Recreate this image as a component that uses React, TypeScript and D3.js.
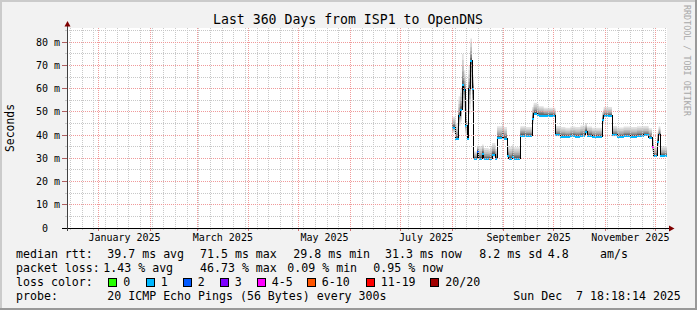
import React from "react";
import * as d3 from "d3";

// ---------- data ----------
const titleText = "Last 360 Days from ISP1 to OpenDNS";
const yAxisTitle = "Seconds";
const watermarkText = "RRDTOOL / TOBI OETIKER";

const sampleDates = [
  "2025-08-01", "2025-08-03", "2025-08-05", "2025-08-06", "2025-08-07", "2025-08-08",
  "2025-08-09", "2025-08-10", "2025-08-11", "2025-08-12", "2025-08-13", "2025-08-14",
  "2025-08-16", "2025-08-17", "2025-08-19", "2025-08-20", "2025-08-23", "2025-08-24",
  "2025-08-25", "2025-08-27", "2025-08-28", "2025-08-31", "2025-09-01", "2025-09-03",
  "2025-09-04", "2025-09-06", "2025-09-07", "2025-09-11", "2025-09-14", "2025-09-18",
  "2025-09-19", "2025-09-21", "2025-09-22", "2025-09-25", "2025-10-02", "2025-10-05",
  "2025-10-08", "2025-10-11", "2025-10-14", "2025-10-17", "2025-10-20", "2025-10-21",
  "2025-10-24", "2025-10-30", "2025-10-31", "2025-11-05", "2025-11-08", "2025-11-12",
  "2025-11-16", "2025-11-20", "2025-11-24", "2025-11-27", "2025-11-29", "2025-11-30",
  "2025-12-02", "2025-12-03", "2025-12-04",
];
const medianMs = [
  43.7, 38.8, 48.5, 51.5, 62.0, 60.0,
  44.6, 38.8, 60.4, 72.2, 60.4, 30.2,
  33.4, 30.2, 32.5, 30.0, 30.1, 30.3,
  32.0, 30.2, 39.1, 40.5, 39.0, 31.6,
  30.2, 31.0, 30.3, 40.2, 40.0, 47.5,
  49.7, 49.2, 48.9, 48.6, 40.3, 39.7,
  39.5, 40.0, 39.7, 40.1, 42.0, 40.2,
  39.6, 46.8, 48.6, 40.3, 39.6, 39.9,
  39.7, 40.1, 40.3, 39.4, 35.2, 31.3,
  37.4, 40.6, 31.3,
];
const smokeLowMs = [
  41.0, 38.0, 44.0, 46.0, 52.0, 50.0,
  40.0, 38.0, 49.0, 60.0, 50.0, 29.6,
  30.0, 29.6, 30.0, 29.5, 29.5, 29.6,
  30.5, 29.6, 38.3, 39.0, 38.3, 30.5,
  29.6, 30.0, 29.6, 39.5, 39.4, 45.0,
  48.8, 48.4, 48.2, 48.0, 39.5, 39.0,
  38.9, 39.3, 39.0, 39.4, 40.5, 39.4,
  39.0, 45.0, 47.9, 39.5, 39.0, 39.2,
  39.0, 39.4, 39.6, 38.8, 33.0, 30.8,
  35.0, 39.8, 30.8,
];
const smokeHighMs = [
  48.0, 45.0, 56.8, 60.0, 75.0, 68.0,
  56.0, 46.0, 70.0, 81.7, 66.0, 33.0,
  35.5, 35.2, 36.0, 34.5, 34.0, 35.0,
  36.6, 34.0, 43.9, 44.5, 43.5, 36.0,
  35.0, 36.0, 34.8, 43.9, 43.5, 52.0,
  54.0, 53.5, 52.5, 51.8, 44.0, 43.5,
  43.2, 43.8, 43.5, 44.2, 45.3, 43.8,
  43.2, 50.0, 52.1, 44.0, 43.3, 43.8,
  43.5, 43.9, 44.0, 43.0, 39.0, 35.2,
  41.0, 43.9, 35.2,
];
const lossPings = [
  1, 1, 1, 1, 1, 1,
  1, 1, 1, 1, 1, 1,
  2, 1, 1, 1, 8, 1,
  1, 1, 1, 1, 1, 1,
  1, 1, 1, 1, 1, 1,
  1, 1, 1, 1, 1, 1,
  1, 1, 1, 1, 1, 1,
  1, 1, 1, 1, 1, 1,
  1, 1, 1, 1, 5, 1,
  1, 1, 1,
];

const yMajorTicks = [0, 10, 20, 30, 40, 50, 60, 70, 80];
const yMinorTicks = [5, 15, 25, 35, 45, 55, 65, 75, 85];

const lossLabels = ["0", "1", "2", "3", "4-5", "6-10", "11-19", "20/20"];
const lossColors = ["#26ff00", "#00b8ff", "#0059ff", "#7e00ff", "#ff00ff", "#ff5500", "#ff0000", "#a10000"];
const lossUpper = [0, 1, 2, 3, 5, 10, 19, 20];

const rttValues = ["39.7 ms avg", "71.5 ms max", "29.8 ms min", "31.3 ms now", "8.2 ms sd", "4.8", "am/s"];
const lossValues = ["1.43 % avg", "46.73 % max", "0.09 % min", "0.95 % now"];
const probeText = "20 ICMP Echo Pings (56 Bytes) every 300s";
const stampText = "Sun Dec  7 18:18:14 2025";

// ---------- layout ----------
const W = 697;
const H = 310;
const PL = 67;
const PR = 667;
const PT = 28;
const PB = 228;
const START = new Date(Date.UTC(2024, 11, 13, 0, 0, 0));
const END = new Date(Date.UTC(2025, 11, 8, 0, 0, 0));
const Y_MAX = 86.2;

const rttX = [107.3, 200, 293.3, 385, 479.3, 547.7, 600];
const lossX = [103.3, 200, 287.3, 373.3];
const legendBoxX = [108.3, 145.7, 182.7, 219.7, 256.7, 306.7, 365.7, 430.3];
const rowY = [258, 272, 286, 300];

const MONO = "'DejaVu Sans Mono', monospace";
const smokeFractions = [1, 0.8, 0.6, 0.42, 0.26, 0.12];
const smokeShades = ["#e2e2e2", "#d0d0d0", "#bcbcbc", "#a4a4a4", "#888888", "#606060"];

function lossColor(n: number) {
  for (let i = 0; i < lossUpper.length; i++) if (n <= lossUpper[i]) return lossColors[i];
  return lossColors[lossColors.length - 1];
}

export default function App() {
  const x = d3.scaleUtc().domain([START, END]).range([PL, PR]);
  const y = d3.scaleLinear().domain([0, Y_MAX]).range([PB, PT]);
  const fy = (v: number) => Math.floor(y(v)) + 0.5;
  const fx = (d: Date) => Math.floor(x(d)) + 0.5;

  const times = sampleDates.map((s) => new Date(s + "T00:00:00Z"));
  const bins = times.map((t, i) => ({
    t0: t,
    t1: i < times.length - 1 ? times[i + 1] : END,
    med: medianMs[i],
    lo: smokeLowMs[i],
    hi: smokeHighMs[i],
    loss: lossPings[i],
  }));
  const stepPts = [...bins.map((b) => ({ t: b.t0, b })), { t: END, b: bins[bins.length - 1] }];

  const smokePaths = smokeFractions.map((f) =>
    d3
      .area<{ t: Date; b: any }>()
      .x((d) => x(d.t))
      .y0((d) => y(d.b.med - (d.b.med - d.b.lo) * f))
      .y1((d) => y(d.b.med + (d.b.hi - d.b.med) * f))
      .curve(d3.curveStepAfter)(stepPts) as string
  );
  const medianPath = d3
    .line<{ t: Date; b: any }>()
    .x((d) => x(d.t))
    .y((d) => Math.round(y(d.b.med)) + 0.5)
    .curve(d3.curveStepAfter)(stepPts) as string;

  const months = d3.utcMonth.range(START, END);
  const weeks = d3.utcSunday.range(START, END);
  const labelMonths = d3.utcMonth.every(2)!.range(d3.utcMonth.floor(START), END)
    .filter((m) => {
      const mid = new Date((m.getTime() + d3.utcMonth.offset(m, 1).getTime()) / 2);
      return mid > START && mid < END;
    });
  const fmtMonth = d3.utcFormat("%B %Y");

  const gridGray = "#c8c8c8";
  const gridRed = "#f09a9a";

  return (
    <svg
      width={W}
      height={H}
      viewBox={`0 0 ${W} ${H}`}
      style={{ position: "fixed", left: 0, top: 0, display: "block" }}
      fontFamily={MONO}
    >
      {/* background + 3D frame */}
      <rect x={0} y={0} width={W} height={H} fill="#f2f2f2" />
      <rect x={0} y={0} width={W} height={2} fill="#cbcbcb" />
      <rect x={0} y={0} width={2} height={H} fill="#cbcbcb" />
      <rect x={W - 2} y={0} width={2} height={H} fill="#999999" />
      <rect x={0} y={H - 2} width={W} height={2} fill="#999999" />

      {/* canvas */}
      <rect x={PL} y={PT} width={PR - PL} height={PB - PT} fill="#ffffff" />

      {/* smoke */}
      {smokePaths.map((p, i) => (
        <path key={"s" + i} d={p} fill={smokeShades[i]} stroke="none" />
      ))}

      {/* median */}
      <path d={medianPath} fill="none" stroke="#000000" strokeWidth={1} shapeRendering="crispEdges" />
      {bins.map((b, i) => {
        const x0 = x(b.t0);
        const x1 = x(b.t1);
        const ym = Math.round(y(b.med));
        return (
          <rect
            key={"m" + i}
            x={x0}
            y={ym - 0.5}
            width={Math.max(1, x1 - x0)}
            height={2.5}
            fill={lossColor(b.loss)}
            shapeRendering="crispEdges"
          />
        );
      })}

      {/* grid (drawn over data, as rrdtool does) */}
      <g shapeRendering="crispEdges" strokeWidth={1}>
        {yMinorTicks.filter((v) => v <= Y_MAX).map((v) => (
          <g key={"yn" + v}>
            <line x1={PL} x2={PR} y1={fy(v)} y2={fy(v)} stroke={gridGray} strokeDasharray="1,1" />
            <line x1={PL - 2} x2={PL} y1={fy(v)} y2={fy(v)} stroke={gridGray} />
          </g>
        ))}
        {weeks.map((d) => (
          <g key={"wk" + d.getTime()}>
            <line x1={fx(d)} x2={fx(d)} y1={PT} y2={PB} stroke={gridGray} strokeDasharray="1,1" />
            <line x1={fx(d)} x2={fx(d)} y1={PB} y2={PB + 2} stroke={gridGray} />
          </g>
        ))}
        {yMajorTicks.filter((v) => v > 0).map((v) => (
          <g key={"yj" + v}>
            <line x1={PL} x2={PR} y1={fy(v)} y2={fy(v)} stroke={gridRed} strokeDasharray="1,1" />
            <line x1={PL - 5} x2={PL} y1={fy(v)} y2={fy(v)} stroke="#b06060" />
          </g>
        ))}
        {months.map((d) => (
          <g key={"mo" + d.getTime()}>
            <line x1={fx(d)} x2={fx(d)} y1={PT} y2={PB} stroke={gridRed} strokeDasharray="1,1" />
            <line x1={fx(d)} x2={fx(d)} y1={PB} y2={PB + 3} stroke="#d07070" />
          </g>
        ))}
      </g>

      {/* axes */}
      <g shapeRendering="crispEdges">
        <line x1={PL - 5} x2={PR + 3} y1={PB + 0.5} y2={PB + 0.5} stroke="#000000" />
        <line x1={PL + 0.5} x2={PL + 0.5} y1={PB + 3} y2={PT - 3} stroke="#404040" />
      </g>
      <path d={`M${PL + 0.5},${PT - 7} L${PL - 2.5},${PT - 1.5} L${PL + 3.5},${PT - 1.5} Z`} fill="#7f0000" />
      <path d={`M${PR + 7.5},${PB + 0.5} L${PR + 2},${PB - 2.5} L${PR + 2},${PB + 3.5} Z`} fill="#7f0000" />

      {/* y tick labels */}
      {yMajorTicks.map((v) => (
        <text
          key={"yl" + v}
          x={v === 0 ? 48 : 60}
          y={y(v) + 3.5}
          textAnchor="end"
          fontSize={10}
          fill="#000"
        >
          {v === 0 ? "0" : `${v} m`}
        </text>
      ))}

      {/* x labels */}
      {labelMonths.map((m) => {
        const mid = new Date((m.getTime() + d3.utcMonth.offset(m, 1).getTime()) / 2);
        return (
          <text key={"xl" + m.getTime()} x={x(mid)} y={241} textAnchor="middle" fontSize={10} fill="#000">
            {fmtMonth(m)}
          </text>
        );
      })}

      {/* title, axis title, watermark */}
      <text x={348} y={24} textAnchor="middle" fontSize={13.2} fill="#000">
        {titleText}
      </text>
      <text transform={`translate(14,128) rotate(-90)`} textAnchor="middle" fontSize={11.4} fill="#000">
        {yAxisTitle}
      </text>
      <text transform={`translate(684,5) rotate(90)`} fontSize={8.4} fill="#a8a8a8">
        {watermarkText}
      </text>

      {/* legend */}
      <g fontSize={11.6} fill="#000" style={{ whiteSpace: "pre" }}>
        <text x={16} y={rowY[0]}>median rtt:</text>
        {rttValues.map((t, i) => (
          <text key={"r" + i} x={rttX[i]} y={rowY[0]}>{t}</text>
        ))}
        <text x={16} y={rowY[1]}>packet loss:</text>
        {lossValues.map((t, i) => (
          <text key={"l" + i} x={lossX[i]} y={rowY[1]}>{t}</text>
        ))}
        <text x={16} y={rowY[2]}>loss color:</text>
        {lossLabels.map((t, i) => (
          <g key={"lc" + i}>
            <rect
              x={Math.round(legendBoxX[i]) + 0.5}
              y={278.5}
              width={8}
              height={8}
              fill={lossColors[i]}
              stroke="#000"
              strokeWidth={1}
              shapeRendering="crispEdges"
            />
            <text x={legendBoxX[i] + 15} y={rowY[2]}>{t}</text>
          </g>
        ))}
        <text x={16} y={rowY[3]}>probe:</text>
        <text x={107.3} y={rowY[3]}>{probeText}</text>
        <text x={513.3} y={rowY[3]} xmlSpace="preserve" style={{ whiteSpace: "pre" }}>{stampText}</text>
      </g>
    </svg>
  );
}
